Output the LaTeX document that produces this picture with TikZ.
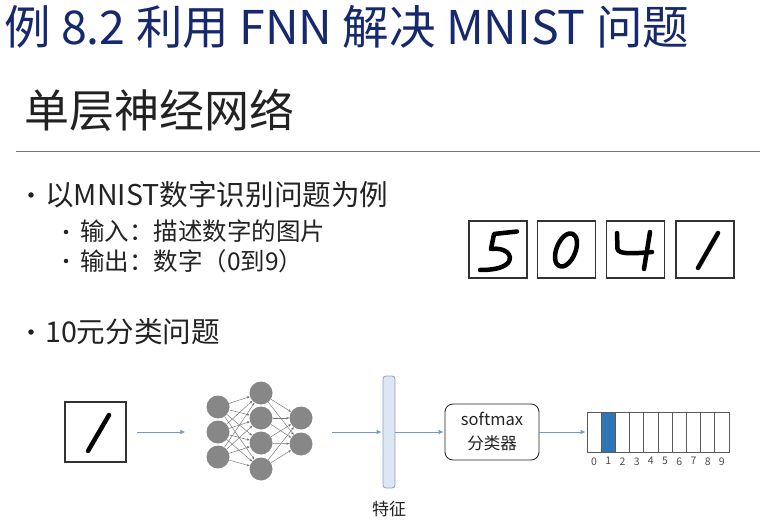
\documentclass[tikz,border=0pt]{standalone}
\usepackage{fontspec}
\setmainfont{Noto Sans CJK SC}
\usetikzlibrary{arrows.meta,positioning}
\definecolor{titleblue}{RGB}{22,40,110}
\definecolor{textgray}{RGB}{34,34,34}
\definecolor{flowblue}{RGB}{110,155,200}
\definecolor{cellblue}{RGB}{46,117,182}
\definecolor{featfill}{RGB}{221,231,243}
\definecolor{featline}{RGB}{140,160,188}
\tikzset{
	neuron/.style={circle, fill=black!47, minimum size=23pt, inner sep=0pt},
	wire/.style={line width=0.45pt, color=black!55, -{Stealth[length=3pt,width=2.4pt]}},
	flow/.style={line width=0.8pt, color=flowblue, -{Latex[length=5pt,width=4.5pt]}},
	digitbox/.style={draw=black!80, line width=1.3pt, minimum width=58pt, minimum height=57pt, inner sep=0pt},
	pen/.style={line width=4.5pt, line cap=round, line join=round, color=black},
	dot/.style={circle, fill=textgray, inner sep=0pt, minimum size=#1},
	cell/.style={draw=black!65, line width=0.7pt, minimum width=14.2pt, minimum height=40pt, inner sep=0pt},
}

\begin{document}
\begin{tikzpicture}[x=1pt, y=-1pt]
		%%%%% START %%%%%
		\useasboundingbox (0, 0) rectangle (760, 521);
		
		\node[anchor=west, inner sep=0pt, color=titleblue, font=\fontsize{46.5}{50}\selectfont] (title) at (4, 27) {例 8.2 利用 FNN 解决 MNIST 问题};
		\node[anchor=west, inner sep=0pt, color=textgray, font=\fontsize{45}{50}\selectfont] (sub) at (24, 110) {单层神经网络};
		\draw[line width=1pt, color=black!55] (16, 152) -- (760, 152);
		
		% bullets
		\node[dot=5.5pt] (b1) at (31, 195) {};
		\node[anchor=west, inner sep=0pt, color=textgray, font=\fontsize{28.6}{30}\selectfont] (t1) at (45, 195) {以MNIST数字识别问题为例};
		\node[dot=4.5pt] (b2) at (66, 232) {};
		\node[anchor=west, inner sep=0pt, color=textgray, font=\fontsize{24.5}{28}\selectfont] (t2) at (80, 231) {输入：描述数字的图片};
		\node[dot=4.5pt] (b3) at (66, 261) {};
		\node[anchor=west, inner sep=0pt, color=textgray, font=\fontsize{24.5}{28}\selectfont] (t3) at (80, 261) {输出：数字（0到9）};
		\node[dot=5.5pt] (b4) at (31, 332) {};
		\node[anchor=west, inner sep=0pt, color=textgray, font=\fontsize{28.6}{30}\selectfont] (t4) at (45, 332) {10元分类问题};
		
		% sample digits
		\node[digitbox] (d5) at (498, 249.5) {};
		\node[digitbox] (d0) at (566.5, 249.5) {};
		\node[digitbox] (d4) at (635.5, 249.5) {};
		\node[digitbox] (d1) at (705, 249.5) {};
		\draw[pen] (517, 231.5) -- (494, 234) -- (491, 249) .. controls (505, 247) and (514, 255) .. (508, 263) .. controls (502, 269) and (490, 270) .. (480, 270);
		\draw[pen, rotate around={-22:(566, 250)}] (566, 250) ellipse [x radius=9.5, y radius=17.5];
		\draw[pen] (617, 233) -- (617.5, 249) .. controls (619, 254) and (630, 254) .. (652, 252);
		\draw[pen] (650, 232) -- (644, 269);
		\draw[pen] (718, 233) -- (698, 268);
		
		% input image
		\node[digitbox, minimum width=61pt, minimum height=60pt] (inbox) at (95.5, 432) {};
		\draw[pen] (109, 415) -- (88, 451);
		
		% network
		\node[neuron] (i1) at (218, 407) {};
		\node[neuron] (i2) at (218, 432) {};
		\node[neuron] (i3) at (218, 457) {};
		\node[neuron] (h1) at (261, 393) {};
		\node[neuron] (h2) at (261, 418) {};
		\node[neuron] (h3) at (261, 443) {};
		\node[neuron] (h4) at (261, 469) {};
		\node[neuron] (o1) at (301, 418) {};
		\node[neuron] (o2) at (301, 444) {};
		\foreach \a in {i1,i2,i3} \foreach \b in {h1,h2,h3,h4} \draw[wire] (\a) -- (\b);
		\foreach \a in {h1,h2,h3,h4} \foreach \b in {o1,o2} \draw[wire] (\a) -- (\b);
		\coordinate (netout) at (312, 432);
		
		% feature, classifier, output
		\node[draw=featline, fill=featfill, line width=0.8pt, rounded corners=3pt, minimum width=12pt, minimum height=112pt, inner sep=0pt] (feat) at (389, 432) {};
		\node[color=textgray, font=\fontsize{17}{20}\selectfont] (featlbl) at (389, 509) {特征};
		\node[draw=black!60, line width=0.8pt, rounded corners=8pt, minimum width=94pt, minimum height=56pt, align=center, color=textgray, font=\fontsize{16.5}{24}\selectfont] (sm) at (492, 432) {softmax\\分类器};
		
		\node[cell] (c0) at (594.1, 432) {};
		\node[cell, fill=cellblue] (c1) at (608.3, 432) {};
		\node[cell] (c2) at (622.5, 432) {};
		\node[cell] (c3) at (636.7, 432) {};
		\node[cell] (c4) at (650.9, 432) {};
		\node[cell] (c5) at (665.1, 432) {};
		\node[cell] (c6) at (679.3, 432) {};
		\node[cell] (c7) at (693.5, 432) {};
		\node[cell] (c8) at (707.7, 432) {};
		\node[cell] (c9) at (721.9, 432) {};
		\foreach \k in {0,...,9} \node[color=black!70, font=\fontsize{10.5}{11}\selectfont, below=1.5pt of c\k] (n\k) {\k};
		
		\draw[flow, shorten <=10pt, shorten >=21pt] (inbox.east) -- (i2.west);
		\draw[flow, shorten <=20pt, shorten >=1pt] (netout) -- (feat);
		\draw[flow, shorten >=1pt] (feat) -- (sm);
		\draw[flow, shorten >=1pt] (sm) -- (c0);
		%%%%% END %%%%%
	\end{tikzpicture}
\end{document}
